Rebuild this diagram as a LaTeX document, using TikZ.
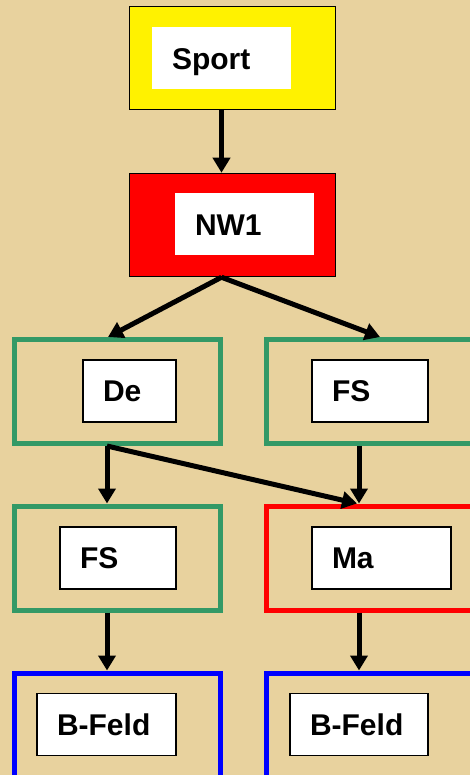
\documentclass[tikz,border=0pt]{standalone}
\usepackage{fontspec}
\setmainfont{Liberation Sans}
\usetikzlibrary{arrows.meta}
\definecolor{papyrus}{RGB}{232,210,158}
\definecolor{frog}{RGB}{51,153,102}
\tikzset{
	head/.style={draw=black,line width=1.5pt,fill=#1,minimum width=206pt,minimum height=103pt,inner sep=0pt},
	group/.style={draw=#1,line width=5pt,minimum width=206pt,minimum height=104pt,inner sep=0pt},
	lbl/.style={fill=white,text width=#1,align=left,inner xsep=20pt,inner ysep=0pt,minimum height=62pt,text height=21.5pt,text depth=0pt,font=\bfseries\fontsize{30}{32}\selectfont},
	framed/.style={draw=black,line width=1.2pt},
	link/.style={-{Triangle[width=17pt,length=15pt]},line width=5pt}
}

\begin{document}
\begin{tikzpicture}[x=1pt,y=-1pt]
			\useasboundingbox (0,0) rectangle (470,775);
			\fill[papyrus] (0,0) rectangle (470,775);
			\clip (0,0) rectangle (470,775);

			\node[head=yellow] (sport) at (232.5,58) {};
			\node[lbl=99pt] (sportin) at (221.5,58.5) {Sport};
			\node[head=red] (nw) at (232.5,225) {};
			\node[lbl=99pt] (nwin) at (244.5,224.5) {NW1};

			\node[group=frog] (de) at (117.5,391.5) {};
			\node[lbl=53pt,framed] (dein) at (129.5,391) {De};
			\node[group=frog] (fsr) at (369.5,391.5) {};
			\node[lbl=76pt,framed] (fsrin) at (370,391) {FS};

			\node[group=frog] (fsl) at (117.5,558) {};
			\node[lbl=76pt,framed] (fslin) at (118,558) {FS};
			\node[group=red] (ma) at (369.5,558) {};
			\node[lbl=99pt,framed] (main) at (381.5,558) {Ma};

			\node[group=blue] (bfl) at (117.5,725) {};
			\node[lbl=99pt,framed] (bflin) at (106.5,724.5) {B-Feld};
			\node[group=blue] (bfr) at (369.5,725) {};
			\node[lbl=98pt,framed] (bfrin) at (359,724.5) {B-Feld};

			\draw[link] (sportin |- sport.south) -- (sportin |- nw.north);
			\draw[link] (sportin |- nw.south) -- ([xshift=-9.5pt]de.north);
			\draw[link] (sportin |- nw.south) -- ([xshift=10.5pt]fsr.north);
			\draw[link] ([xshift=-10.5pt]de.south) -- ([xshift=-10.5pt]fsl.north);
			\draw[link] ([xshift=-10.5pt]de.south) -- ([xshift=-12.5pt]ma.north);
			\draw[link] ([xshift=-10.5pt]fsr.south) -- ([xshift=-10.5pt]ma.north);
			\draw[link] ([xshift=-10.5pt]fsl.south) -- ([xshift=-10.5pt]bfl.north);
			\draw[link] ([xshift=-10.5pt]ma.south) -- ([xshift=-10.5pt]bfr.north);
		\end{tikzpicture}
\end{document}
